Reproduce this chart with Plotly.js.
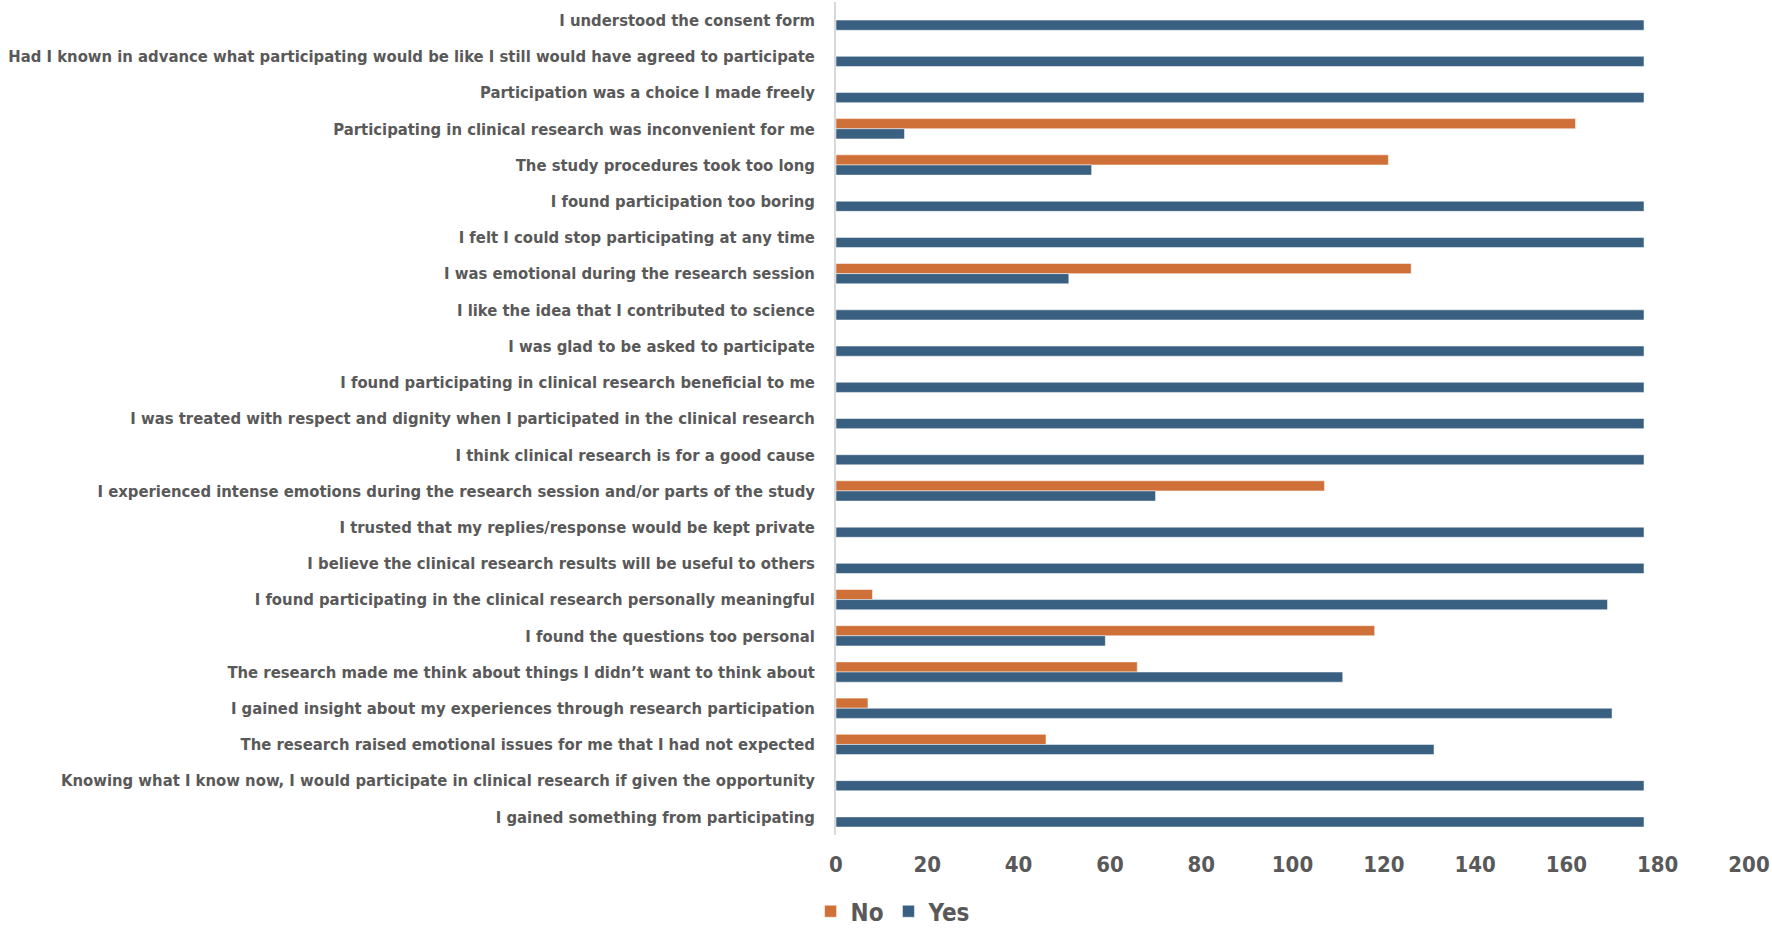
<!DOCTYPE html>
<html>
<head>
<meta charset="utf-8">
<script src="https://cdn.plot.ly/plotly-3.0.1.min.js"></script>
<style>
  html, body { margin: 0; padding: 0; background: #fff; }
  #chart { width: 1772px; height: 929px; }
</style>
</head>
<body>
<div id="chart"></div>
<script>
// survey statements, top to bottom
var statements = [
  'I understood the consent form',
  'Had I known in advance what participating would be like I still would have agreed to participate',
  'Participation was a choice I made freely',
  'Participating in clinical research was inconvenient for me',
  'The study procedures took too long',
  'I found participation too boring',
  'I felt I could stop participating at any time',
  'I was emotional during the research session',
  'I like the idea that I contributed to science',
  'I was glad to be asked to participate',
  'I found participating in clinical research beneficial to me',
  'I was treated with respect and dignity when I participated in the clinical research',
  'I think clinical research is for a good cause',
  'I experienced intense emotions during the research session and/or parts of the study',
  'I trusted that my replies/response would be kept private',
  'I believe the clinical research results will be useful to others',
  'I found participating in the clinical research personally meaningful',
  'I found the questions too personal',
  'The research made me think about things I didn\u2019t want to think about',
  'I gained insight about my experiences through research participation',
  'The research raised emotional issues for me that I had not expected',
  'Knowing what I know now, I would participate in clinical research if given the opportunity',
  'I gained something from participating'
];

var noCounts  = [0, 0, 0, 162, 121, 0, 0, 126, 0, 0, 0, 0, 0, 107, 0, 0, 8, 118, 66, 7, 46, 0, 0];
var yesCounts = [177, 177, 177, 15, 56, 177, 177, 51, 177, 177, 177, 177, 177, 70, 177, 177, 169, 59, 111, 170, 131, 177, 177];

var xTicks = [0, 20, 40, 60, 80, 100, 120, 140, 160, 180, 200];

var fontFam = '"Liberation Sans Narrow", "DejaVu Sans Condensed", "Roboto", sans-serif';

var traceNo = {
  type: 'bar',
  orientation: 'h',
  name: 'No',
  y: statements,
  x: noCounts,
  marker: {color: '#CF7038', line: {color: 'rgba(255,255,255,0.5)', width: 1}},
  hoverinfo: 'x+name'
};
var traceYes = {
  type: 'bar',
  orientation: 'h',
  name: 'Yes',
  y: statements,
  x: yesCounts,
  marker: {color: '#395F81', line: {color: 'rgba(255,255,255,0.5)', width: 1}},
  hoverinfo: 'x+name'
};

var layout = {
  width: 1772,
  height: 929,
  paper_bgcolor: '#ffffff',
  plot_bgcolor: '#ffffff',
  margin: {t: 2, r: 23, l: 836, b: 94, autoexpand: false},
  barmode: 'group',
  bargap: 0.44,
  bargroupgap: 0,
  showlegend: true,
  legend: {
    orientation: 'h',
    x: 0.0625, xanchor: 'center',
    y: -0.092, yanchor: 'middle',
    font: {family: fontFam, size: 24, color: '#595959', weight: 'bold'},
    traceorder: 'normal'
  },
  xaxis: {
    range: [0, 200],
    tickvals: xTicks,
    showgrid: false,
    zeroline: false,
    showline: false,
    ticks: '',
    ticklabelstandoff: 14,
    tickfont: {family: fontFam, size: 22, color: '#595959', weight: 'bold'}
  },
  yaxis: {
    type: 'category',
    autorange: 'reversed',
    showgrid: false,
    zeroline: false,
    showline: true,
    linecolor: '#d9d9d9',
    linewidth: 1.5,
    ticks: '',
    ticklabelstandoff: 16,
    tickfont: {family: fontFam, size: 16.5, color: '#595959', weight: 'bold'}
  }
};

Plotly.newPlot('chart', [traceNo, traceYes], layout, {displayModeBar: false, responsive: false});
</script>
</body>
</html>
